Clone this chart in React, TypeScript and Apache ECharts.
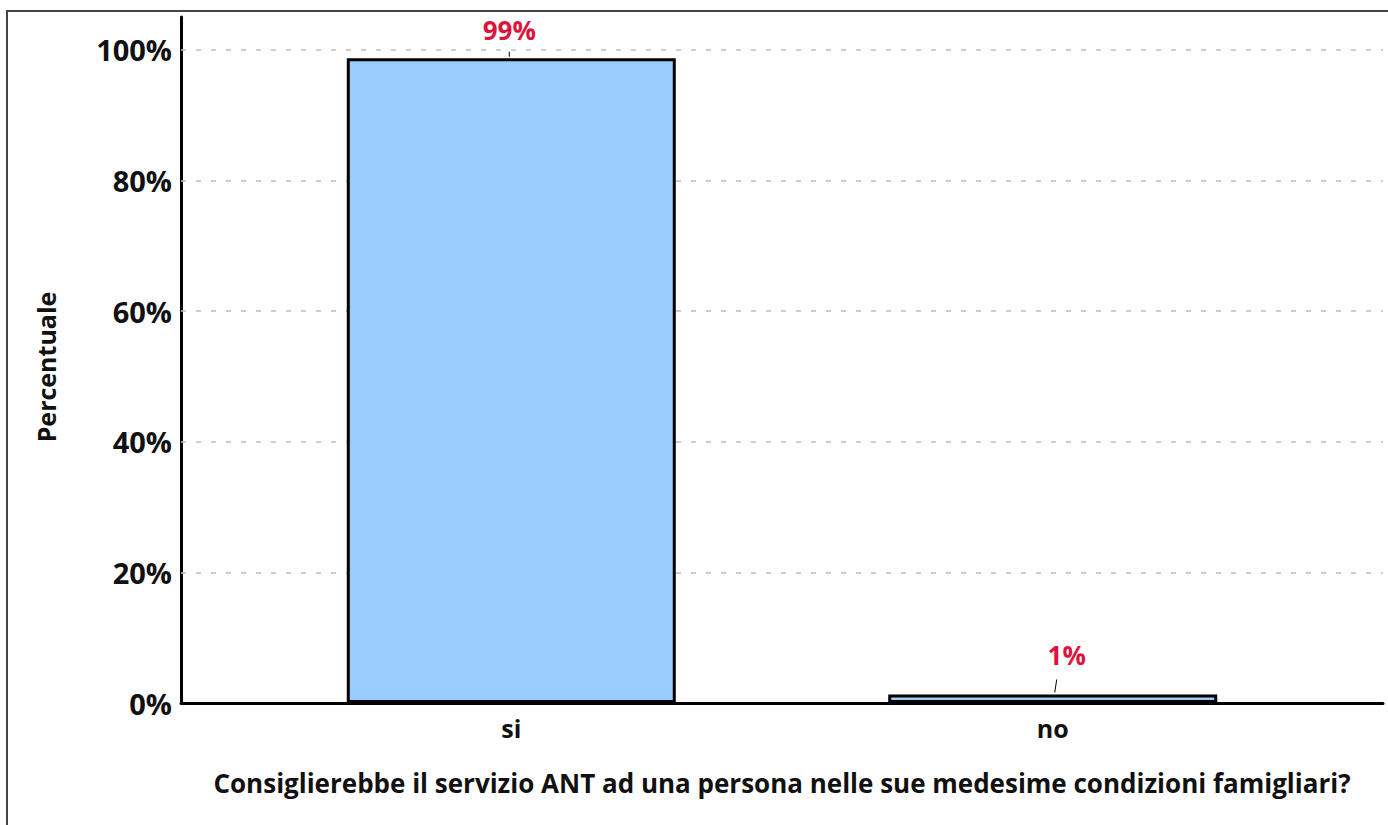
import React, { useEffect, useRef } from "react";
import * as echarts from "echarts";

const categories: string[] = ["si", "no"];
const percentValues: number[] = [98.7, 1.3];
const gridValues: number[] = [20, 40, 60, 80, 100];
const yAxisTitle = "Percentuale";
const xAxisTitle =
  "Consiglierebbe il servizio ANT ad una persona nelle sue medesime condizioni famigliari?";

const FONT = "'Open Sans', 'Noto Sans', sans-serif";

// pixel offsets of the repelled value labels and their leader segments, relative to bar top
const labelOffsets = [
  { tx: -2, ty: -28, x1: -2, y1: -6.5, x2: -2, y2: -1.5 },
  { tx: 14, ty: -40, x1: 4, y1: -15, x2: 2, y2: -2 },
];

export default function App() {
  const ref = useRef<HTMLDivElement>(null);

  useEffect(() => {
    if (!ref.current) return;
    const chart = echarts.init(ref.current, null, { renderer: "svg" });
    chart.setOption({
      animation: false,
      backgroundColor: "#ffffff",
      textStyle: { fontFamily: FONT },
      graphic: [
        {
          type: "rect",
          silent: true,
          z: -10,
          shape: { x: 7, y: 11, width: 1500, height: 1000 },
          style: { fill: "none", stroke: "#444444", lineWidth: 2 },
        },
      ],
      grid: { left: 181, right: 5, top: 17, bottom: 122, containLabel: false },
      xAxis: {
        type: "value",
        min: -0.61,
        max: 1.61,
        name: xAxisTitle,
        nameLocation: "middle",
        nameGap: 67,
        nameTextStyle: {
          fontFamily: FONT,
          fontWeight: "bold",
          fontSize: 26,
          color: "#111111",
        },
        axisLine: { show: true, onZero: false, lineStyle: { color: "#000000", width: 3 } },
        axisTick: { show: false },
        splitLine: { show: false },
        axisLabel: {
          fontFamily: FONT,
          fontWeight: "bold",
          fontSize: 25,
          color: "#111111",
          margin: 12,
          formatter: (v: number) => {
            const i = Math.round(v);
            if (Math.abs(v - i) < 1e-6 && categories[i] !== undefined) return categories[i];
            return "";
          },
        },
      },
      yAxis: {
        type: "value",
        min: 0,
        max: 105,
        interval: 20,
        name: yAxisTitle,
        nameLocation: "middle",
        nameGap: 123,
        nameTextStyle: {
          fontFamily: FONT,
          fontWeight: "bold",
          fontSize: 25,
          color: "#111111",
          padding: [0, 14, 0, 0],
        },
        axisLine: { show: true, onZero: false, lineStyle: { color: "#000000", width: 3 } },
        axisTick: { show: false },
        splitLine: { show: false },
        axisLabel: {
          fontFamily: FONT,
          fontWeight: "bold",
          fontSize: 29,
          color: "#111111",
          margin: 9,
          formatter: (v: number) => (v <= 100 ? `${v}%` : ""),
        },
      },
      series: [
        {
          type: "bar",
          z: 3,
          barWidth: 329,
          data: percentValues.map((v, i) => [i, v]),
          itemStyle: { color: "#99ccff", borderColor: "#000000", borderWidth: 3 },
          label: { show: false },
          markLine: {
            silent: true,
            z: 1,
            symbol: "none",
            label: { show: false },
            lineStyle: { color: "#bdbdbd", type: [5, 10], width: 1.5 },
            data: gridValues.map((v) => ({ yAxis: v })),
          },
        },
        {
          type: "custom",
          z: 5,
          silent: true,
          data: percentValues.map((v, i) => [i, v]),
          renderItem: (params: any, api: any) => {
            const pt = api.coord([api.value(0), api.value(1)]);
            const o = labelOffsets[params.dataIndex];
            return {
              type: "group",
              children: [
                {
                  type: "line",
                  shape: {
                    x1: pt[0] + o.x1,
                    y1: pt[1] + o.y1,
                    x2: pt[0] + o.x2,
                    y2: pt[1] + o.y2,
                  },
                  style: { stroke: "#000000", lineWidth: 1 },
                },
                {
                  type: "text",
                  x: pt[0] + o.tx,
                  y: pt[1] + o.ty,
                  style: {
                    text: `${Math.round(api.value(1))}%`,
                    fill: "#dc143c",
                    fontFamily: FONT,
                    fontWeight: "bold",
                    fontSize: 26,
                    align: "center",
                    verticalAlign: "middle",
                  },
                },
              ],
            };
          },
        },
      ],
    });
    return () => chart.dispose();
  }, []);

  return (
    <div
      ref={ref}
      style={{ position: "fixed", left: 0, top: 0, width: 1388, height: 825, background: "#fff" }}
    />
  );
}
